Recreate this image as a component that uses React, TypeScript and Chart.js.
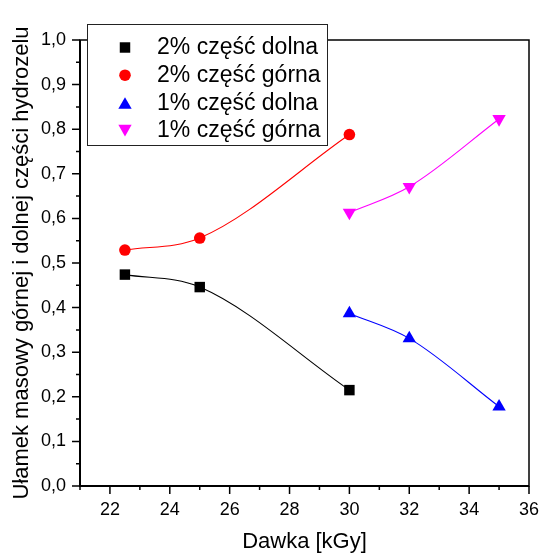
import React, { useEffect, useRef } from 'react';
import { Chart, registerables } from 'chart.js';

Chart.register(...registerables);

// ---- data ----
const dose2 = [22.5, 25, 30];
const dose1 = [30, 32, 35];
const lower2 = [0.474, 0.446, 0.215];
const upper2 = [0.529, 0.556, 0.788];
const lower1 = [0.387, 0.331, 0.178];
const upper1 = [0.613, 0.671, 0.823];
const seriesLabels = ['2% część dolna', '2% część górna', '1% część dolna', '1% część górna'];
const seriesColors = ['#000000', '#ff0000', '#0000ff', '#ff00ff'];
const xTicks = [22, 24, 26, 28, 30, 32, 34, 36];
const xMinorTicks = [21, 23, 25, 27, 29, 31, 33, 35];
const yTicks = [0, 0.1, 0.2, 0.3, 0.4, 0.5, 0.6, 0.7, 0.8, 0.9, 1.0];
const yMinorTicks = [0.05, 0.15, 0.25, 0.35, 0.45, 0.55, 0.65, 0.75, 0.85, 0.95];
const xTitle = 'Dawka [kGy]';
const yTitle = 'Ułamek masowy górnej i dolnej części hydrozelu';

const FONT = "'Liberation Sans', Arial, sans-serif";

function makeSet(label: string, xs: number[], ys: number[], color: string, style: string, radius: number, rotation = 0) {
  return {
    label,
    data: xs.map((x, i) => ({ x, y: ys[i] })),
    borderColor: color,
    backgroundColor: color,
    pointBackgroundColor: color,
    pointBorderColor: color,
    pointBorderWidth: 0,
    pointStyle: style,
    pointRadius: radius,
    pointHoverRadius: radius,
    pointRotation: rotation,
    borderWidth: 1.1,
    cubicInterpolationMode: 'monotone',
    fill: false,
  };
}

function drawMarker(ctx: CanvasRenderingContext2D, style: string, x: number, y: number, r: number, rotation: number) {
  ctx.beginPath();
  if (style === 'rect') {
    const s = r * Math.SQRT1_2;
    ctx.rect(x - s, y - s, 2 * s, 2 * s);
  } else if (style === 'circle') {
    ctx.arc(x, y, r, 0, Math.PI * 2);
  } else {
    let rad = (rotation * Math.PI) / 180;
    ctx.moveTo(x + Math.sin(rad) * r, y - Math.cos(rad) * r);
    rad += (2 * Math.PI) / 3;
    ctx.lineTo(x + Math.sin(rad) * r, y - Math.cos(rad) * r);
    rad += (2 * Math.PI) / 3;
    ctx.lineTo(x + Math.sin(rad) * r, y - Math.cos(rad) * r);
    ctx.closePath();
  }
  ctx.fill();
}

const framePlugin = {
  id: 'originFrame',
  beforeDatasetsDraw(chart: any) {
    const { ctx, chartArea: a, scales } = chart;
    const xs = scales.x;
    const ys = scales.y;
    ctx.save();
    ctx.strokeStyle = '#000';
    ctx.lineWidth = 1.5;
    ctx.strokeRect(a.left, a.top, a.right - a.left, a.bottom - a.top);
    ctx.lineWidth = 2;
    ctx.beginPath();
    ctx.moveTo(a.left, a.top);
    ctx.lineTo(a.left, a.bottom);
    ctx.lineTo(a.right, a.bottom);
    ctx.stroke();
    ctx.lineWidth = 1.5;
    ctx.beginPath();
    for (const v of xTicks) {
      const p = xs.getPixelForValue(v);
      ctx.moveTo(p, a.bottom);
      ctx.lineTo(p, a.bottom + 8);
    }
    for (const v of xMinorTicks) {
      const p = xs.getPixelForValue(v);
      ctx.moveTo(p, a.bottom);
      ctx.lineTo(p, a.bottom + 4);
    }
    for (const v of yTicks) {
      const p = ys.getPixelForValue(v);
      ctx.moveTo(a.left, p);
      ctx.lineTo(a.left - 8, p);
    }
    for (const v of yMinorTicks) {
      const p = ys.getPixelForValue(v);
      ctx.moveTo(a.left, p);
      ctx.lineTo(a.left - 4, p);
    }
    ctx.stroke();
    ctx.restore();
  },
};

const legendPlugin = {
  id: 'boxLegend',
  afterDraw(chart: any) {
    const { ctx } = chart;
    const left = 87.5;
    const top = 24.5;
    const width = 240;
    const height = 121;
    ctx.save();
    ctx.fillStyle = '#fff';
    ctx.fillRect(left, top, width, height);
    ctx.strokeStyle = '#222';
    ctx.lineWidth = 1;
    ctx.strokeRect(left, top, width, height);
    ctx.font = `23px ${FONT}`;
    ctx.textBaseline = 'middle';
    ctx.textAlign = 'left';
    chart.data.datasets.forEach((ds: any, i: number) => {
      const y = 47.5 + i * 27.7;
      ctx.fillStyle = ds.pointBackgroundColor;
      const off = ds.pointStyle === 'triangle' ? (ds.pointRotation ? -ds.pointRadius / 4 : ds.pointRadius / 4) : 0;
      drawMarker(ctx, ds.pointStyle, 125, y + off, ds.pointRadius, ds.pointRotation || 0);
      ctx.fillStyle = '#000';
      ctx.fillText(ds.label, 157, y + 0.5);
    });
    ctx.restore();
  },
};

function noPadding(s: any) {
  s.paddingLeft = 0;
  s.paddingRight = 0;
  s.paddingTop = 0;
  s.paddingBottom = 0;
}

export default function App() {
  const ref = useRef<HTMLCanvasElement>(null);
  useEffect(() => {
    if (!ref.current) return;
    Chart.defaults.font.family = FONT;
    const chart = new Chart(ref.current, {
      type: 'line',
      data: {
        datasets: [
          makeSet(seriesLabels[0], dose2, lower2, seriesColors[0], 'rect', 7.4),
          makeSet(seriesLabels[1], dose2, upper2, seriesColors[1], 'circle', 5.8),
          makeSet(seriesLabels[2], dose1, lower1, seriesColors[2], 'triangle', 7.7),
          makeSet(seriesLabels[3], dose1, upper1, seriesColors[3], 'triangle', 7.7, 180),
        ] as any,
      },
      options: {
        responsive: false,
        animation: false,
        events: [],
        layout: { padding: { left: 0, right: 11, top: 40, bottom: 0 } },
        plugins: { legend: { display: false }, tooltip: { enabled: false } },
        scales: {
          x: {
            type: 'linear',
            min: 21,
            max: 36,
            afterBuildTicks: (s: any) => {
              s.ticks = xTicks.map((v) => ({ value: v }));
            },
            afterFit: (s: any) => {
              s.height = 67;
              noPadding(s);
            },
            grid: { display: false, drawTicks: false },
            border: { display: false },
            ticks: {
              autoSkip: false,
              maxRotation: 0,
              padding: 13,
              color: '#000',
              font: { size: 18, family: FONT },
              callback: (v: any) => String(v),
            },
            title: {
              display: true,
              text: xTitle,
              color: '#000',
              font: { size: 22, lineHeight: 1, family: FONT },
              padding: { top: 0, bottom: 0 },
            },
          },
          y: {
            type: 'linear',
            min: 0,
            max: 1,
            afterBuildTicks: (s: any) => {
              s.ticks = yTicks.map((v) => ({ value: v }));
            },
            afterFit: (s: any) => {
              s.width = 80;
              noPadding(s);
            },
            grid: { display: false, drawTicks: false },
            border: { display: false },
            ticks: {
              padding: 14,
              color: '#000',
              font: { size: 18, family: FONT },
              callback: (v: any) => Number(v).toFixed(1).replace('.', ','),
            },
            title: {
              display: true,
              text: yTitle,
              color: '#000',
              font: { size: 22, lineHeight: 1, family: FONT },
              padding: { top: 11, bottom: 0 },
            },
          },
        },
      } as any,
      plugins: [framePlugin, legendPlugin],
    });
    return () => chart.destroy();
  }, []);
  return (
    <div style={{ position: 'fixed', left: 0, top: 0, width: 540, height: 553, background: '#fff' }}>
      <canvas ref={ref} width={540} height={553} style={{ display: 'block' }} />
    </div>
  );
}
